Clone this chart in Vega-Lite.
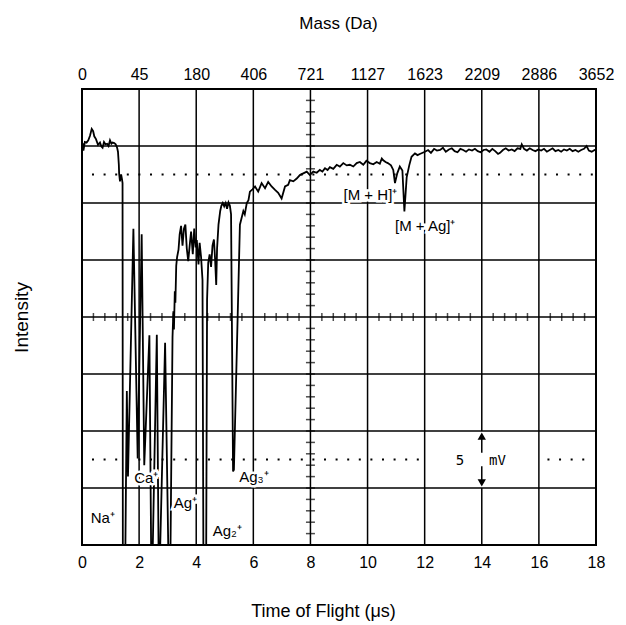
{
  "$schema": "https://vega.github.io/schema/vega-lite/v6.json",
  "width": 514,
  "height": 456,
  "autosize": {"type": "none"},
  "padding": {"left": 82, "top": 89, "right": 30, "bottom": 80},
  "background": "white",
  "config": {
    "view": {"stroke": "black", "strokeWidth": 2},
    "font": "Liberation Sans",
    "axis": {"minExtent": 0, "maxExtent": 300}
  },
  "datasets": {
    "trace": [
      {"t":0.02,"v":7.05},{"t":0.05,"v":6.92},{"t":0.10,"v":7.07},{"t":0.16,"v":7.06},{"t":0.22,"v":7.10},{"t":0.28,"v":7.18},{"t":0.34,"v":7.30},{"t":0.39,"v":7.26},{"t":0.43,"v":7.17},{"t":0.49,"v":7.12},{"t":0.56,"v":7.02},{"t":0.63,"v":7.06},{"t":0.68,"v":6.99},{"t":0.72,"v":6.97},{"t":0.77,"v":7.07},{"t":0.82,"v":7.03},{"t":0.88,"v":7.04},{"t":0.93,"v":7.00},{"t":0.98,"v":7.10},{"t":1.03,"v":7.04},{"t":1.07,"v":7.06},{"t":1.13,"v":7.05},{"t":1.18,"v":7.03},{"t":1.23,"v":6.97},{"t":1.26,"v":6.90},{"t":1.29,"v":6.67},{"t":1.30,"v":6.52},{"t":1.33,"v":6.38},{"t":1.37,"v":6.50},{"t":1.40,"v":6.42},{"t":1.42,"v":6.35},
      {"t":1.43,"v":0},{"t":1.52,"v":0},{"t":1.57,"v":2.70},{"t":1.61,"v":1.20},{"t":1.80,"v":5.55},{"t":1.95,"v":1.52},{"t":2.09,"v":5.45},{"t":2.18,"v":1.40},{"t":2.36,"v":3.68},{"t":2.42,"v":0},{"t":2.48,"v":0},{"t":2.62,"v":3.69},{"t":2.68,"v":0},{"t":2.74,"v":0},{"t":2.91,"v":3.55},{"t":3.02,"v":0},{"t":3.10,"v":0},
      {"t":3.17,"v":3.65},{"t":3.20,"v":4.10},{"t":3.22,"v":3.78},{"t":3.25,"v":4.45},{"t":3.27,"v":4.25},{"t":3.30,"v":4.90},{"t":3.33,"v":5.05},{"t":3.38,"v":5.18},{"t":3.42,"v":5.45},{"t":3.47,"v":5.60},{"t":3.52,"v":5.25},{"t":3.57,"v":5.55},{"t":3.62,"v":5.62},{"t":3.67,"v":5.20},{"t":3.72,"v":4.98},{"t":3.78,"v":5.30},{"t":3.82,"v":5.50},{"t":3.88,"v":5.10},{"t":3.93,"v":5.55},{"t":3.98,"v":5.22},{"t":4.02,"v":5.35},{"t":4.08,"v":4.92},{"t":4.12,"v":5.30},{"t":4.17,"v":5.05},{"t":4.22,"v":4.65},
      {"t":4.25,"v":0},{"t":4.35,"v":0},{"t":4.38,"v":4.30},{"t":4.42,"v":4.95},{"t":4.47,"v":5.10},{"t":4.52,"v":4.88},{"t":4.57,"v":5.25},{"t":4.62,"v":5.36},{"t":4.66,"v":5.02},{"t":4.70,"v":4.56},{"t":4.73,"v":5.20},{"t":4.78,"v":5.62},{"t":4.84,"v":5.86},{"t":4.88,"v":5.95},{"t":4.93,"v":6.00},{"t":4.98,"v":5.94},{"t":5.03,"v":6.00},{"t":5.08,"v":5.90},{"t":5.13,"v":6.01},{"t":5.18,"v":5.95},{"t":5.22,"v":5.80},
      {"t":5.29,"v":1.29},{"t":5.32,"v":1.32},{"t":5.53,"v":5.62},{"t":5.58,"v":5.72},{"t":5.65,"v":5.86},{"t":5.70,"v":5.80},{"t":5.77,"v":6.00},{"t":5.83,"v":6.05},{"t":5.88,"v":6.20},
      {"t":5.97,"v":6.24},{"t":6.06,"v":6.29},{"t":6.17,"v":6.20},{"t":6.29,"v":6.35},{"t":6.41,"v":6.26},{"t":6.52,"v":6.37},{"t":6.64,"v":6.29},{"t":6.76,"v":6.23},{"t":6.87,"v":6.18},{"t":6.99,"v":6.08},{"t":7.11,"v":6.29},{"t":7.22,"v":6.32},{"t":7.28,"v":6.40},{"t":7.40,"v":6.38},{"t":7.52,"v":6.43},{"t":7.63,"v":6.49},{"t":7.75,"v":6.52},{"t":7.87,"v":6.55},{"t":7.98,"v":6.49},{"t":8.10,"v":6.55},{"t":8.22,"v":6.53},{"t":8.33,"v":6.58},{"t":8.42,"v":6.55},{"t":8.51,"v":6.61},{"t":8.60,"v":6.58},{"t":8.68,"v":6.63},{"t":8.80,"v":6.60},{"t":8.92,"v":6.67},{"t":9.03,"v":6.64},{"t":9.15,"v":6.70},{"t":9.27,"v":6.66},{"t":9.38,"v":6.67},{"t":9.50,"v":6.64},{"t":9.62,"v":6.70},{"t":9.73,"v":6.72},{"t":9.85,"v":6.67},{"t":9.96,"v":6.74},{"t":10.08,"v":6.70},{"t":10.20,"v":6.68},{"t":10.32,"v":6.72},{"t":10.43,"v":6.69},{"t":10.50,"v":6.78},{"t":10.55,"v":6.75},{"t":10.63,"v":6.72},{"t":10.71,"v":6.70},{"t":10.82,"v":6.66},{"t":10.90,"v":6.58},{"t":10.96,"v":6.35},{"t":11.04,"v":6.52},{"t":11.13,"v":6.64},{"t":11.22,"v":6.57},{"t":11.29,"v":5.85},{"t":11.37,"v":6.45},{"t":11.46,"v":6.66},{"t":11.54,"v":6.81},{"t":11.66,"v":6.87},{"t":11.75,"v":6.84},{"t":11.83,"v":6.86},
      {"t":12.01,"v":6.90},{"t":12.12,"v":6.93},{"t":12.22,"v":6.88},{"t":12.33,"v":6.95},{"t":12.43,"v":6.92},{"t":12.54,"v":6.93},{"t":12.64,"v":6.97},{"t":12.74,"v":6.90},{"t":12.85,"v":6.94},{"t":12.95,"v":6.96},{"t":13.05,"v":6.91},{"t":13.15,"v":6.89},{"t":13.25,"v":6.95},{"t":13.35,"v":6.93},{"t":13.45,"v":6.90},{"t":13.55,"v":6.94},{"t":13.66,"v":6.92},{"t":13.76,"v":6.95},{"t":13.86,"v":6.91},{"t":13.96,"v":6.89},{"t":14.06,"v":6.93},{"t":14.16,"v":6.94},{"t":14.27,"v":6.90},{"t":14.37,"v":6.95},{"t":14.47,"v":6.91},{"t":14.57,"v":6.86},{"t":14.64,"v":6.88},{"t":14.74,"v":6.93},{"t":14.84,"v":6.96},{"t":14.94,"v":6.92},{"t":15.05,"v":6.94},{"t":15.15,"v":6.91},{"t":15.25,"v":6.96},{"t":15.35,"v":6.95},{"t":15.40,"v":7.03},{"t":15.48,"v":6.95},{"t":15.58,"v":6.92},{"t":15.68,"v":6.96},{"t":15.78,"v":6.93},{"t":15.88,"v":6.91},{"t":15.98,"v":6.94},{"t":16.08,"v":6.92},{"t":16.18,"v":6.95},{"t":16.28,"v":6.90},{"t":16.38,"v":6.93},{"t":16.48,"v":6.96},{"t":16.58,"v":6.91},{"t":16.68,"v":6.93},{"t":16.78,"v":6.90},{"t":16.88,"v":6.94},{"t":16.98,"v":6.92},{"t":17.08,"v":6.95},{"t":17.18,"v":6.91},{"t":17.28,"v":6.93},{"t":17.38,"v":6.90},{"t":17.48,"v":6.93},{"t":17.58,"v":6.95},{"t":17.67,"v":7.00},{"t":17.75,"v":6.92},{"t":17.85,"v":6.90},{"t":17.95,"v":6.93},{"t":18.00,"v":6.92}
    ],
    "vgrid": [
      {"t":0,"y0":0,"y1":8},{"t":2,"y0":0,"y1":8},{"t":4,"y0":0,"y1":8},{"t":6,"y0":0,"y1":8},{"t":8,"y0":0,"y1":8},{"t":10,"y0":0,"y1":8},{"t":12,"y0":0,"y1":8},{"t":14,"y0":0,"y1":1},{"t":14,"y0":2,"y1":8},{"t":16,"y0":0,"y1":8},{"t":18,"y0":0,"y1":8},
      {"t":14,"y0":1.1,"y1":1.38},{"t":14,"y0":1.62,"y1":1.9}
    ],
    "hgrid": [{"v":0},{"v":1},{"v":2},{"v":3},{"v":4},{"v":5},{"v":6},{"v":7},{"v":8}],
    "dots": [
      {"x1":0.35,"x2":17.92,"y":6.5},
      {"x1":0.35,"x2":11.92,"y":1.5},
      {"x1":16.3,"x2":17.92,"y":1.5}
    ],
    "vticks": [
      {"v":0.2},{"v":0.4},{"v":0.6},{"v":0.8},{"v":1.0},{"v":1.2},{"v":1.4},{"v":1.6},{"v":1.8},{"v":2.0},{"v":2.2},{"v":2.4},{"v":2.6},{"v":2.8},{"v":3.0},{"v":3.2},{"v":3.4},{"v":3.6},{"v":3.8},{"v":4.2},{"v":4.4},{"v":4.6},{"v":4.8},{"v":5.0},{"v":5.2},{"v":5.4},{"v":5.6},{"v":5.8},{"v":6.0},{"v":6.2},{"v":6.4},{"v":6.6},{"v":6.8},{"v":7.0},{"v":7.2},{"v":7.4},{"v":7.6},{"v":7.8}
    ],
    "hticks": [
      {"t":0.4},{"t":0.8},{"t":1.2},{"t":1.6},{"t":2.4},{"t":2.8},{"t":3.2},{"t":3.6},{"t":4.4},{"t":4.8},{"t":5.2},{"t":5.6},{"t":6.4},{"t":6.8},{"t":7.2},{"t":7.6},{"t":8.4},{"t":8.8},{"t":9.2},{"t":9.6},{"t":10.4},{"t":10.8},{"t":11.2},{"t":11.6},{"t":12.4},{"t":12.8},{"t":13.2},{"t":13.6},{"t":14.4},{"t":14.8},{"t":15.2},{"t":15.6},{"t":16.4},{"t":16.8},{"t":17.2},{"t":17.6}
    ],
    "arrows": [
      {"t":14,"v":1.91,"shape":"triangle-up"},
      {"t":14,"v":1.09,"shape":"triangle-down"}
    ],
    "labels": [
      {"t":0.73,"v":0.48,"label":"Na⁺"},
      {"t":2.25,"v":1.18,"label":"Ca⁺"},
      {"t":3.62,"v":0.74,"label":"Ag⁺"},
      {"t":5.09,"v":0.24,"label":"Ag₂⁺"},
      {"t":6.02,"v":1.2,"label":"Ag₃⁺"},
      {"t":10.1,"v":6.14,"label":"[M + H]⁺"},
      {"t":12.02,"v":5.59,"label":"[M + Ag]⁺"}
    ],
    "mv": [
      {"t":13.24,"v":1.47,"label":"5"},
      {"t":14.55,"v":1.47,"label":"mV"}
    ]
  },
  "layer": [
    {
      "data": {"name": "vgrid"},
      "mark": {"type": "rule", "color": "black", "strokeWidth": 1.5},
      "encoding": {
        "x": {"field": "t", "type": "quantitative", "scale": {"domain": [0, 18], "nice": false, "zero": false},
          "axis": {"orient": "bottom", "values": [0,2,4,6,8,10,12,14,16,18], "format": "d", "grid": false, "ticks": false, "domain": false, "labelFlush": false,
            "labelFontSize": 16, "labelColor": "black", "labelPadding": 9, "labelFont": "Liberation Sans",
            "title": "Time of Flight  (μs)", "titleFontSize": 18, "titleFontWeight": "normal", "titleColor": "black", "titlePadding": 32, "titleFont": "Liberation Sans", "titleX": 241}},
        "y": {"field": "y0", "type": "quantitative", "scale": {"domain": [0, 8], "nice": false, "zero": false},
          "axis": {"orient": "left", "title": "Intensity", "labels": false, "ticks": false, "domain": false, "grid": false, "titleFontSize": 19, "titleFontWeight": "normal", "titleColor": "black", "titlePadding": 51, "titleFont": "Liberation Sans"}},
        "y2": {"field": "y1"}
      }
    },
    {
      "data": {"name": "hgrid"},
      "mark": {"type": "rule", "color": "black", "strokeWidth": 1.5},
      "encoding": {
        "y": {"field": "v", "type": "quantitative", "axis": null}
      }
    },
    {
      "data": {"name": "dots"},
      "mark": {"type": "rule", "color": "black", "strokeWidth": 2.2, "strokeDash": [2, 9.6]},
      "encoding": {
        "x": {"field": "x1", "type": "quantitative",
          "axis": {"orient": "top", "values": [0,2,4,6,8,10,12,14,16,18], "grid": false, "ticks": false, "domain": false, "labelFlush": false,
            "labelExpr": "['0','45','180','406','721','1127','1623','2209','2886','3652'][round(datum.value/2)]",
            "labelFontSize": 16, "labelColor": "black", "labelPadding": 7, "labelFont": "Liberation Sans",
            "title": "Mass  (Da)", "titleFontSize": 17, "titleFontWeight": "normal", "titleColor": "black", "titlePadding": 34, "titleFont": "Liberation Sans", "titleX": 256}},
        "x2": {"field": "x2"},
        "y": {"field": "y", "type": "quantitative", "axis": null}
      }
    },
    {
      "data": {"name": "vticks"},
      "mark": {"type": "tick", "orient": "horizontal", "color": "black", "size": 9, "thickness": 1.5},
      "encoding": {
        "x": {"datum": 8, "type": "quantitative", "axis": null},
        "y": {"field": "v", "type": "quantitative", "axis": null}
      }
    },
    {
      "data": {"name": "hticks"},
      "mark": {"type": "tick", "orient": "vertical", "color": "black", "size": 8, "thickness": 1.5},
      "encoding": {
        "x": {"field": "t", "type": "quantitative", "axis": null},
        "y": {"datum": 4, "type": "quantitative", "axis": null}
      }
    },
    {
      "data": {"name": "arrows"},
      "mark": {"type": "point", "filled": true, "color": "black", "size": 70, "opacity": 1},
      "encoding": {
        "x": {"field": "t", "type": "quantitative", "axis": null},
        "y": {"field": "v", "type": "quantitative", "axis": null},
        "shape": {"field": "shape", "type": "nominal", "scale": null}
      }
    },
    {
      "data": {"name": "trace"},
      "mark": {"type": "line", "color": "black", "strokeWidth": 1.8, "clip": true, "interpolate": "linear"},
      "encoding": {
        "x": {"field": "t", "type": "quantitative", "axis": null},
        "y": {"field": "v", "type": "quantitative", "axis": null},
        "order": {"field": "t", "type": "quantitative"}
      }
    },
    {
      "data": {"name": "labels"},
      "mark": {"type": "text", "fontSize": 15, "fill": "white", "stroke": "white", "strokeWidth": 5, "font": "Liberation Sans", "align": "center", "baseline": "middle"},
      "encoding": {
        "x": {"field": "t", "type": "quantitative", "axis": null},
        "y": {"field": "v", "type": "quantitative", "axis": null},
        "text": {"field": "label"}
      }
    },
    {
      "data": {"name": "labels"},
      "mark": {"type": "text", "fontSize": 15, "color": "black", "font": "Liberation Sans", "align": "center", "baseline": "middle"},
      "encoding": {
        "x": {"field": "t", "type": "quantitative", "axis": null},
        "y": {"field": "v", "type": "quantitative", "axis": null},
        "text": {"field": "label"}
      }
    },
    {
      "data": {"name": "mv"},
      "mark": {"type": "text", "fontSize": 14, "color": "black", "font": "DejaVu Sans Mono", "align": "center", "baseline": "middle"},
      "encoding": {
        "x": {"field": "t", "type": "quantitative", "axis": null},
        "y": {"field": "v", "type": "quantitative", "axis": null},
        "text": {"field": "label"}
      }
    }
  ],
  "resolve": {"axis": {"x": "independent", "y": "independent"}}
}
